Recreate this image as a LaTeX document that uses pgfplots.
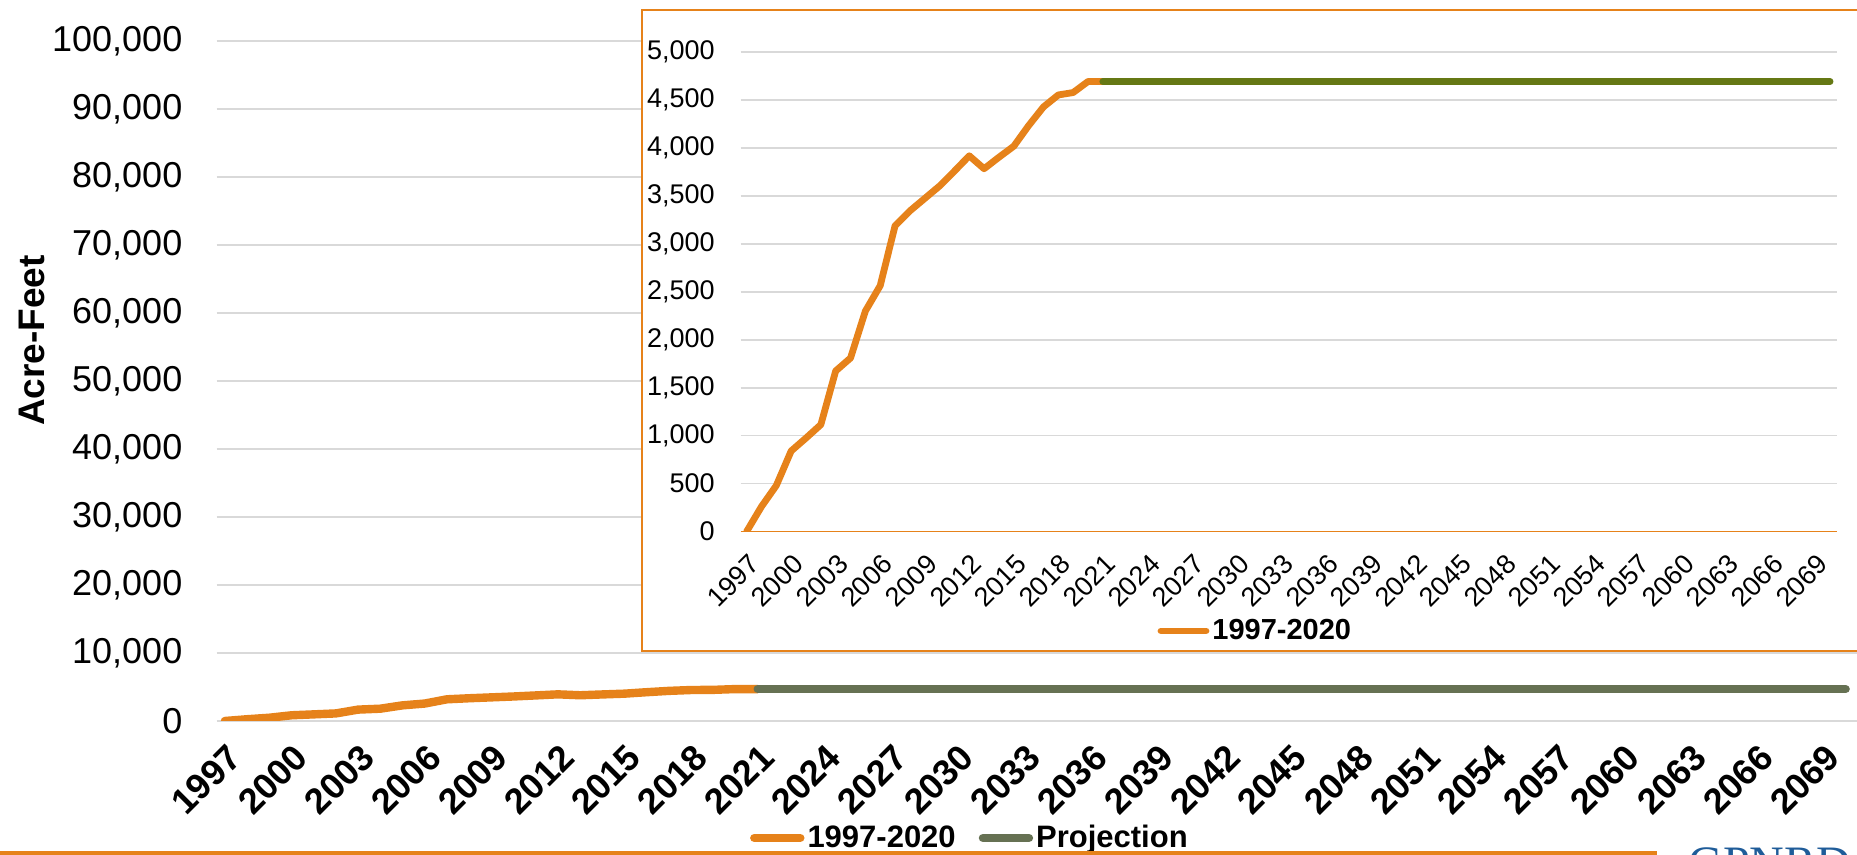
\documentclass[border=0pt]{standalone}
\usepackage{fontspec}
\setmainfont{Liberation Sans}
\newfontfamily\logofont{Liberation Serif}
\usepackage{pgfplots}
\usepackage{pgfplotstable}
\pgfplotsset{compat=1.18}

\definecolor{xlorange}{HTML}{E6821A}
\definecolor{projgreen}{HTML}{667153}
\definecolor{insetgreen}{HTML}{657814}
\definecolor{gridgray}{HTML}{D9D9D9}
\definecolor{logoblue}{HTML}{1F5C99}

% cumulative acre-feet
\pgfplotstableread{
year af
1997 0
1998 260
1999 480
2000 840
2001 975
2002 1115
2003 1675
2004 1810
2005 2300
2006 2565
2007 3190
2008 3345
2009 3475
2010 3605
2011 3760
2012 3920
2013 3785
2014 3905
2015 4020
2016 4235
2017 4430
2018 4555
2019 4580
2020 4695
2021 4695
}\histdata

\pgfplotstableread{
year af
2021 4695
2070 4695
}\projdata

\begin{document}
\begin{tikzpicture}
\useasboundingbox (0,0) rectangle (928.5pt,427.5pt);

% main chart
\begin{axis}[
    at={(108.35pt,67pt)}, anchor=south west,
    scale only axis, width=820pt, height=340pt,
    xmin=1996.63, xmax=2070.5, ymin=0, ymax=100000,
    xtick={1997,2000,...,2069}, ytick={0,10000,...,100000},
    ymajorgrids, grid style={gridgray, line width=0.8pt},
    axis line style={draw=none}, major tick length=0pt,
    scaled y ticks=false,
    /pgf/number format/assume math mode=true,
    yticklabel style={font=\fontsize{18}{18}\selectfont, /pgf/number format/fixed,
        /pgf/number format/1000 sep={,},
        anchor=east, inner sep=0pt, xshift=-17pt},
    xticklabel style={font=\fontsize{18}{18}\selectfont\bfseries, /pgf/number format/1000 sep={},
        inner sep=0pt, xshift=5pt, yshift=-15pt, rotate=45, anchor=east},
    every axis y label/.style={at={(axis description cs:-0.1126,0.5596)}, rotate=90, anchor=center},
    ylabel={\fontsize{18.5}{18.5}\selectfont\bfseries Acre-Feet},
    legend style={at={(axis description cs:0.325,-0.172)}, anchor=west, draw=none, fill=none,
        inner sep=0pt, font=\fontsize{15.5}{15.5}\selectfont\bfseries,
        nodes={inner sep=1.5pt},
        /tikz/every even column/.append style={column sep=10pt}},
    legend columns=2,
    legend image code/.code={\draw[#1] (2pt,0pt) -- (25pt,0pt);},
]
\addplot[xlorange, line width=4.2pt, line join=round, line cap=round] table[x=year,y=af]{\histdata};
\addlegendentry{1997-2020}
\addplot[projgreen, line width=4.2pt, line cap=round] table[x=year,y=af]{\projdata};
\addlegendentry{Projection}
\end{axis}

% inset frame
\draw[xlorange, line width=1pt, fill=white] (321.15pt,101.75pt) rectangle (940pt,422.5pt);

% inset chart
\begin{axis}[
    at={(370.35pt,161.75pt)}, anchor=south west,
    scale only axis, width=548pt, height=239.6pt,
    xmin=1996.6, xmax=2070.45, ymin=0, ymax=5000,
    xtick={1997,2000,...,2069}, ytick={500,1000,...,5000},
    extra y ticks={0},
    extra y tick style={grid style={xlorange, line width=0.9pt}},
    ymajorgrids, grid style={gridgray, line width=0.8pt},
    axis line style={draw=none}, major tick length=0pt,
    scaled y ticks=false,
    /pgf/number format/assume math mode=true,
    yticklabel style={font=\fontsize{13.5}{13.5}\selectfont, /pgf/number format/fixed,
        /pgf/number format/1000 sep={,},
        anchor=east, inner sep=0pt, xshift=-12.85pt},
    xticklabel style={font=\fontsize{13.5}{13.5}\selectfont, /pgf/number format/1000 sep={},
        inner sep=0pt, xshift=4pt, yshift=-14pt, rotate=45, anchor=east},
    legend style={at={(axis description cs:0.38,-0.2076)}, anchor=west, draw=none, fill=none,
        inner sep=0pt, font=\fontsize{14.5}{14.5}\selectfont\bfseries,
        nodes={inner sep=1.5pt}},
    legend image code/.code={\draw[#1] (1.5pt,0pt) -- (24pt,0pt);},
]
\addplot[xlorange, line width=3.4pt, line join=round, line cap=round] table[x=year,y=af]{\histdata};
\addlegendentry{1997-2020}
\addplot[insetgreen, line width=3.4pt, line cap=round, forget plot] table[x=year,y=af]{\projdata};
\end{axis}

% bottom rule and cut-off logo
\draw[xlorange, line width=2pt] (0pt,1pt) -- (828.5pt,1pt);
\node[anchor=north west, inner sep=0pt, text=logoblue, font=\logofont\fontsize{24}{24}\selectfont] at (844pt,4pt) {GPNRD};
\end{tikzpicture}
\end{document}
